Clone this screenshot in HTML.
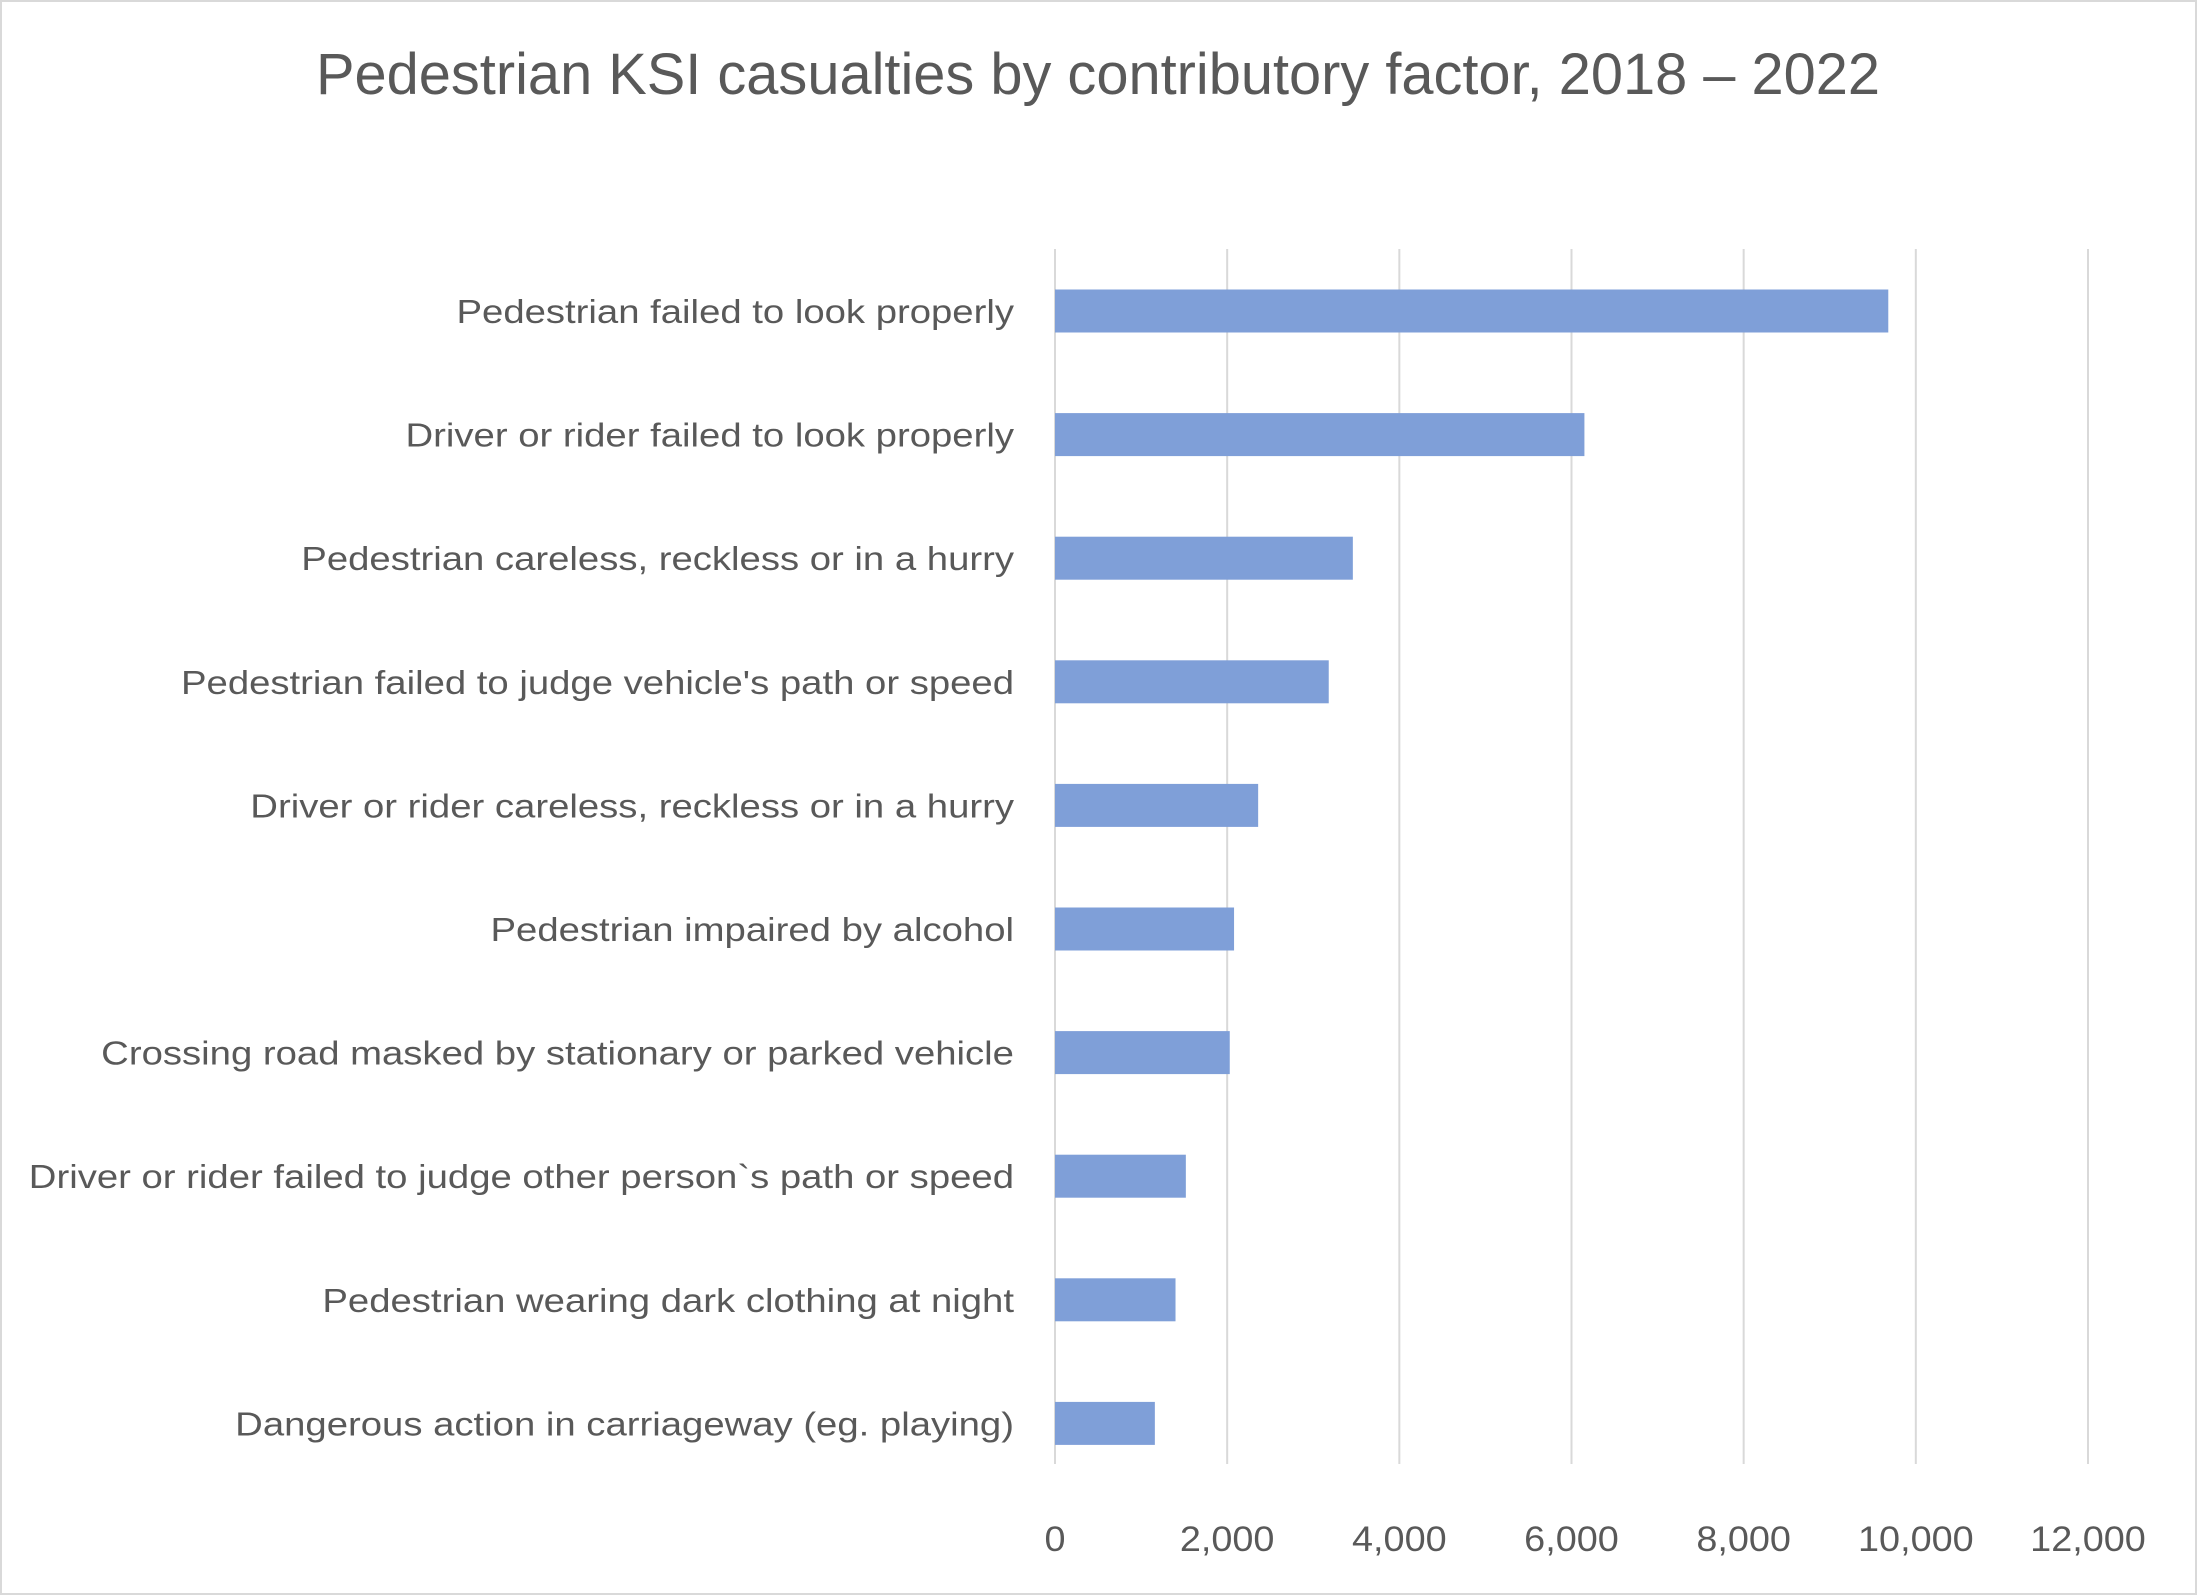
<!DOCTYPE html>
<html><head><meta charset="utf-8"><style>
html,body{margin:0;padding:0;background:#fff;}
svg{display:block;font-family:"Liberation Sans",Arial,sans-serif;}
</style></head><body>
<svg id="chart" width="2197" height="1595" viewBox="0 0 2197 1595">
<rect x="1" y="1" width="2195" height="1593" fill="#fff" stroke="#d9d9d9" stroke-width="2"/>
<text x="1098" y="94" text-anchor="middle" font-size="58" fill="#595959" textLength="1564" lengthAdjust="spacingAndGlyphs">Pedestrian KSI casualties by contributory factor, 2018 – 2022</text>
<g id="grid"></g><g id="bars"></g><g id="labels"></g><g id="ticks"></g>
</svg>
<script>
const categories = ["Pedestrian failed to look properly","Driver or rider failed to look properly","Pedestrian careless, reckless or in a hurry","Pedestrian failed to judge vehicle's path or speed","Driver or rider careless, reckless or in a hurry","Pedestrian impaired by alcohol","Crossing road masked by stationary or parked vehicle","Driver or rider failed to judge other person`s path or speed","Pedestrian wearing dark clothing at night","Dangerous action in carriageway (eg. playing)"];
const values = [9680, 6150, 3460, 3180, 2360, 2080, 2030, 1520, 1400, 1160];
const tickValues = [0, 2000, 4000, 6000, 8000, 10000, 12000];
const tickLabels = ["0","2,000","4,000","6,000","8,000","10,000","12,000"];

const NS = "http://www.w3.org/2000/svg";
const x0 = 1055, x1 = 2088, yTop = 249, yBot = 1464;
const xScale = v => x0 + (v / 12000) * (x1 - x0);
const step = 123.6;
const yScale = i => 311 + step * i;
const barH = 43;
function mk(tag, attrs){const e=document.createElementNS(NS,tag);for(const k in attrs)e.setAttribute(k,attrs[k]);return e;}
const grid=document.getElementById('grid'), bars=document.getElementById('bars'), labels=document.getElementById('labels'), ticks=document.getElementById('ticks');
tickValues.forEach((v,i)=>{
  const l=mk('line',{x1:xScale(v),x2:xScale(v),y1:yTop,y2:yBot,stroke:'#d9d9d9','stroke-width':2});
  
  
  grid.appendChild(l);
  const t=mk('text',{x:xScale(v),y:1551,'text-anchor':'middle','font-size':35,fill:'#595959'});
  t.textContent=tickLabels[i];
  
  
  ticks.appendChild(t);
  const w=t.getComputedTextLength();
  t.setAttribute('textLength',(w*1.08).toFixed(1));
  t.setAttribute('lengthAdjust','spacingAndGlyphs');
});
categories.forEach((c,i)=>{
  const r=mk('rect',{x:x0,y:yScale(i)-barH/2,width:xScale(values[i])-x0,height:barH,fill:'#7f9fd8'});
  
  
  bars.appendChild(r);
  const t=mk('text',{x:1014,y:yScale(i)+12,'text-anchor':'end','font-size':33,fill:'#595959'});
  t.textContent=c;
  
  
  labels.appendChild(t);
  const w=t.getComputedTextLength();
  t.setAttribute('textLength', (w*1.16).toFixed(1));
  t.setAttribute('lengthAdjust','spacingAndGlyphs');
});
</script>
</body></html>
